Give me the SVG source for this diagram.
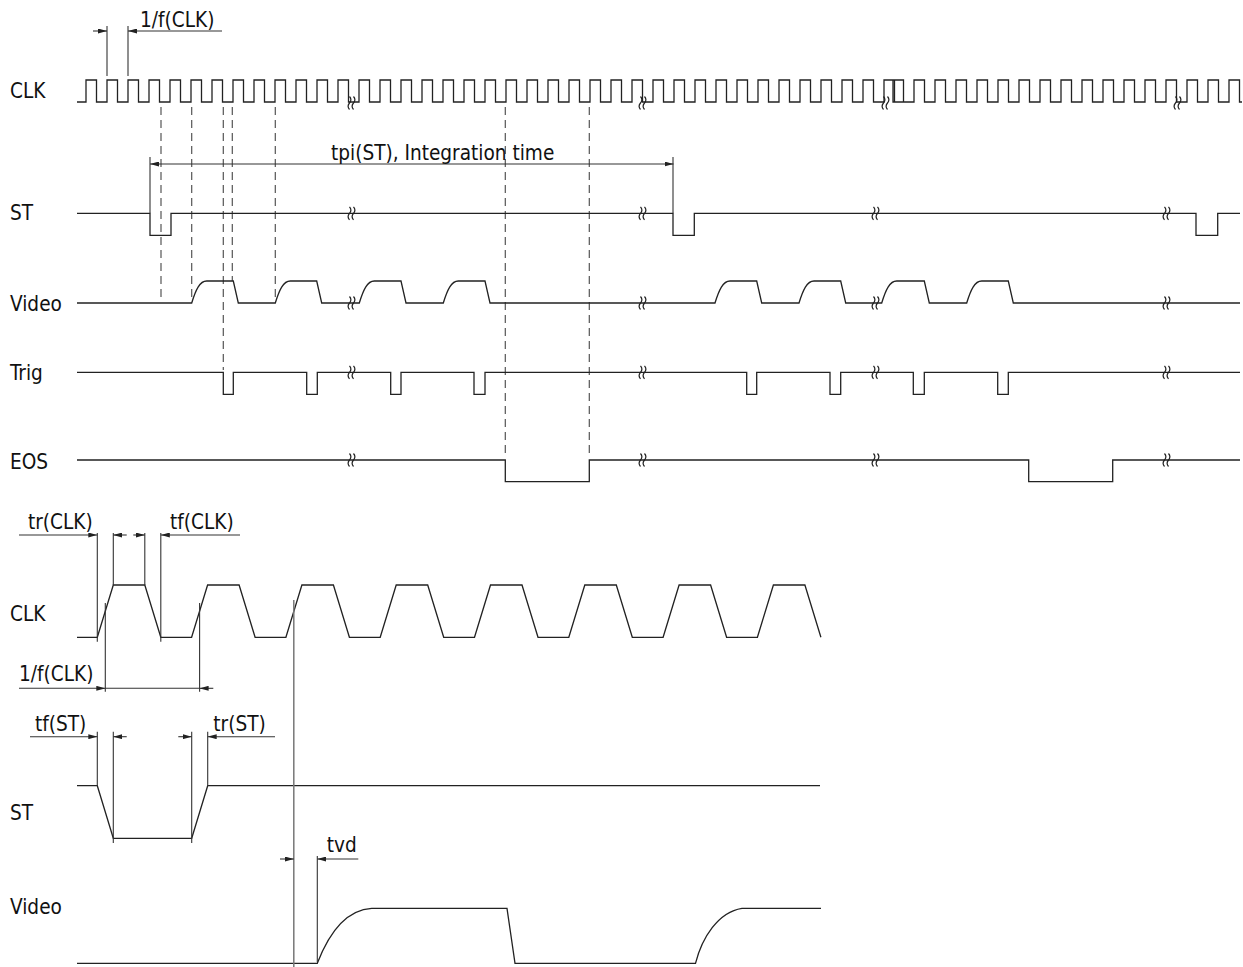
<svg xmlns="http://www.w3.org/2000/svg" xmlns:xlink="http://www.w3.org/1999/xlink" width="1243" height="967" viewBox="0 0 1243 967">
<style>
.t{font-family:"DejaVu Sans Condensed","DejaVu Sans",sans-serif;font-stretch:condensed;font-size:20.6px;fill:#111}
.s{fill:none;stroke:#222;stroke-width:1.3;stroke-linejoin:miter}
.d{fill:none;stroke:#555;stroke-width:1.2;stroke-dasharray:8 5}
.e{fill:none;stroke:#333;stroke-width:1.1}
.g{fill:none;stroke:#777;stroke-width:1.5}
.a{fill:none;stroke:#333;stroke-width:1.1;marker-end:url(#ah)}
.b{fill:none;stroke:#333;stroke-width:1.1;marker-start:url(#ah);marker-end:url(#ah)}
</style>
<defs>
<marker id="ah" viewBox="0 0 9 5" refX="9" refY="2.5" markerWidth="9" markerHeight="5" markerUnits="userSpaceOnUse" orient="auto-start-reverse"><path d="M0,0L9,2.5L0,5z" fill="#222"/></marker>
<path id="brk" d="M-2.5,-6.5q2.8,3.25 0,6.5q-2.8,3.25 0,6.5M1.5,-6.5q2.8,3.25 0,6.5q-2.8,3.25 0,6.5" fill="none" stroke="#222" stroke-width="1.2"/>
</defs>
<rect width="1243" height="967" fill="#fff"/>

<g id="labels">
<text class="t" x="10" y="98">CLK</text>
<text class="t" x="10" y="220">ST</text>
<text class="t" x="10" y="311">Video</text>
<text class="t" x="10" y="380">Trig</text>
<text class="t" x="10" y="469">EOS</text>
<text class="t" x="10" y="621">CLK</text>
<text class="t" x="10" y="820">ST</text>
<text class="t" x="10" y="914">Video</text>
</g>

<g id="guides">
<line class="d" x1="161" y1="107" x2="161" y2="300"/>
<line class="d" x1="191.7" y1="107" x2="191.7" y2="301"/>
<line class="d" x1="223.3" y1="107" x2="223.3" y2="370"/>
<line class="d" x1="232.3" y1="107" x2="232.3" y2="281"/>
<line class="d" x1="275.3" y1="107" x2="275.3" y2="301"/>
<line class="d" x1="505.3" y1="107" x2="505.3" y2="458"/>
<line class="d" x1="589.3" y1="107" x2="589.3" y2="458"/>
</g>

<g id="clk-top">
<path class="s" d="M77,102H86v-22h10.5v22h10.5v-22h10.5v22h10.5v-22h10.5v22h10.5v-22h10.5v22h10.5v-22h10.5v22h10.5v-22h10.5v22h10.5v-22h10.5v22h10.5v-22h10.5v22h10.5v-22h10.5v22h10.5v-22h10.5v22h10.5v-22h10.5v22h10.5v-22h10.5v22h10.5v-22h10.5v22h10.5v-22h10.5v22h10.5v-22h10.5v22h10.5v-22h10.5v22h10.5v-22h10.5v22h10.5v-22h10.5v22h10.5v-22h10.5v22h10.5v-22h10.5v22h10.5v-22h10.5v22h10.5v-22h10.5v22h10.5v-22h10.5v22h10.5v-22h10.5v22h10.5v-22h10.5v22h10.5v-22h10.5v22h10.5v-22h10.5v22h10.5v-22h10.5v22h10.5v-22h10.5v22h10.5v-22h10.5v22h10.5v-22h10.5v22h10.5v-22h10.5v22h10.5v-22h10.5v22h10.5v-22h10.5v22h10.5v-22h10.5v22h10.5v-22h10.5v22h10.5v-22h10.5v22h10.5v-22h10.5v22h10.5v-22h10.5v22h10.5H893v-22h10.5v22h10.5v-22h10.5v22h10.5v-22h10.5v22h10.5v-22h10.5v22h10.5v-22h10.5v22h10.5v-22h10.5v22h10.5v-22h10.5v22h10.5v-22h10.5v22h10.5v-22h10.5v22h10.5v-22h10.5v22h10.5v-22h10.5v22h10.5v-22h10.5v22h10.5v-22h10.5v22h10.5v-22h10.5v22h10.5v-22h10.5v22h10.5v-22h10.5v22h10.5v-22h10.5v22H1242"/>
</g>

<g id="st-top">
<path class="s" d="M77,213.3H150V235.3H171V213.3H673V235.3H694.3V213.3H1196V235.3H1217.7V213.3H1240"/>
</g>

<g id="video-top">
<path class="s" d="M77,303H191.7C195.7,290 199.7,281 206.7,281H233.3L238.3,303H275.3C279.3,290 283.3,281 290.3,281H316.7L321.7,303H359.3C363.3,290 367.3,281 374.3,281H401L406,303H443.3C447.3,290 451.3,281 458.3,281H485L490,303H715C719,290 723,281 730,281H756.7L761.7,303H799C803,290 807,281 814,281H840.7L845.7,303H881.7C885.7,290 889.7,281 896.7,281H924.3L929.3,303H966.7C970.7,290 974.7,281 981.7,281H1008.3L1013.3,303H1240"/>
</g>

<g id="trig">
<path class="s" d="M77,372.3H223.3V394.3H233.3V372.3H306.7V394.3H317.3V372.3H390.7V394.3H401V372.3H474V394.3H485V372.3H746.7V394.3H756.7V372.3H830V394.3H840.7V372.3H913.3V394.3H924.3V372.3H997.7V394.3H1008.3V372.3H1240"/>
</g>

<g id="eos">
<path class="s" d="M77,460H505.3V481.7H589.3V460H1028.7V481.7H1112.7V460H1240"/>
</g>

<g id="breaks">
<use xlink:href="#brk" x="352" y="103"/>
<use xlink:href="#brk" x="643" y="103"/>
<use xlink:href="#brk" x="886" y="103"/>
<use xlink:href="#brk" x="1178" y="103"/>
<use xlink:href="#brk" x="352" y="213.3"/>
<use xlink:href="#brk" x="643" y="213.3"/>
<use xlink:href="#brk" x="876" y="213.3"/>
<use xlink:href="#brk" x="1167" y="213.3"/>
<use xlink:href="#brk" x="352" y="303"/>
<use xlink:href="#brk" x="643" y="303"/>
<use xlink:href="#brk" x="876" y="303"/>
<use xlink:href="#brk" x="1167" y="303"/>
<use xlink:href="#brk" x="352" y="372.3"/>
<use xlink:href="#brk" x="643" y="372.3"/>
<use xlink:href="#brk" x="876" y="372.3"/>
<use xlink:href="#brk" x="1167" y="372.3"/>
<use xlink:href="#brk" x="352" y="460"/>
<use xlink:href="#brk" x="643" y="460"/>
<use xlink:href="#brk" x="876" y="460"/>
<use xlink:href="#brk" x="1167" y="460"/>
</g>

<g id="clk-bottom">
<path class="s" d="M77,637.3H97.3L113.3,585H144.8L160.8,637.3H191.6L207.6,585H239.1L255.1,637.3H285.9L301.9,585H333.4L349.4,637.3H380.2L396.2,585H427.7L443.7,637.3H474.5L490.5,585H522L538,637.3H568.8L584.8,585H616.3L632.3,637.3H663.1L679.1,585H710.6L726.6,637.3H757.4L773.4,585H804.9L820.9,637.3"/>
</g>

<g id="st-bottom">
<path class="s" d="M77,785.7H97.3L113.3,838.3H191.7L207.7,785.7H820"/>
</g>

<g id="video-bottom">
<path class="s" d="M77,963.3H317.3C327,938 343,910 371.7,908.3H507L515,963.3H695.5C702,938 718,912 742,908.3H821"/>
</g>

<g id="connectors">
<line class="e" x1="107" y1="26" x2="107" y2="76"/>
<line class="e" x1="128" y1="26" x2="128" y2="76"/>
<line class="a" x1="93" y1="31" x2="107" y2="31"/>
<line class="a" x1="222" y1="31" x2="128" y2="31"/>
<text class="t" x="140" y="26.5">1/f(CLK)</text>
<line class="e" x1="150" y1="157" x2="150" y2="213.3"/>
<line class="e" x1="673" y1="157" x2="673" y2="213.3"/>
<line class="b" x1="150" y1="164" x2="673.5" y2="164"/>
<text class="t" x="331" y="160">tpi(ST), Integration time</text>
<line class="e" x1="97.3" y1="533" x2="97.3" y2="641.7"/>
<line class="e" x1="113.3" y1="533" x2="113.3" y2="585"/>
<line class="e" x1="144.8" y1="533" x2="144.8" y2="585"/>
<line class="e" x1="160.8" y1="533" x2="160.8" y2="641.7"/>
<line class="a" x1="19" y1="535" x2="97.3" y2="535"/>
<line class="a" x1="126.7" y1="535" x2="113.3" y2="535"/>
<line class="a" x1="133.3" y1="535" x2="144.8" y2="535"/>
<line class="a" x1="240" y1="535" x2="160.8" y2="535"/>
<text class="t" x="28" y="528.5">tr(CLK)</text>
<text class="t" x="170" y="528.5">tf(CLK)</text>
<line class="e" x1="105.3" y1="603" x2="105.3" y2="691.7"/>
<line class="e" x1="199.6" y1="603" x2="199.6" y2="691.7"/>
<line class="a" x1="19" y1="688.3" x2="105.3" y2="688.3"/>
<line class="e" x1="105.3" y1="688.3" x2="199.6" y2="688.3"/>
<line class="a" x1="213.3" y1="688.3" x2="199.6" y2="688.3"/>
<text class="t" x="19" y="681">1/f(CLK)</text>
<line class="g" x1="293.8" y1="600" x2="293.8" y2="967"/>
<line class="e" x1="97.3" y1="731.7" x2="97.3" y2="786"/>
<line class="e" x1="113.3" y1="731.7" x2="113.3" y2="843"/>
<line class="e" x1="191.7" y1="731.7" x2="191.7" y2="843"/>
<line class="e" x1="207.7" y1="731.7" x2="207.7" y2="786"/>
<line class="a" x1="30" y1="736.7" x2="97.3" y2="736.7"/>
<line class="a" x1="126.7" y1="736.7" x2="113.3" y2="736.7"/>
<line class="a" x1="178.3" y1="736.7" x2="191.7" y2="736.7"/>
<line class="a" x1="275" y1="736.7" x2="207.7" y2="736.7"/>
<text class="t" x="35" y="731">tf(ST)</text>
<text class="t" x="213.3" y="731">tr(ST)</text>
<line class="e" x1="317.3" y1="856" x2="317.3" y2="962"/>
<line class="a" x1="280" y1="859" x2="293.8" y2="859"/>
<line class="a" x1="358.3" y1="859" x2="317.3" y2="859"/>
<text class="t" x="326.7" y="852">tvd</text>
</g>
</svg>
